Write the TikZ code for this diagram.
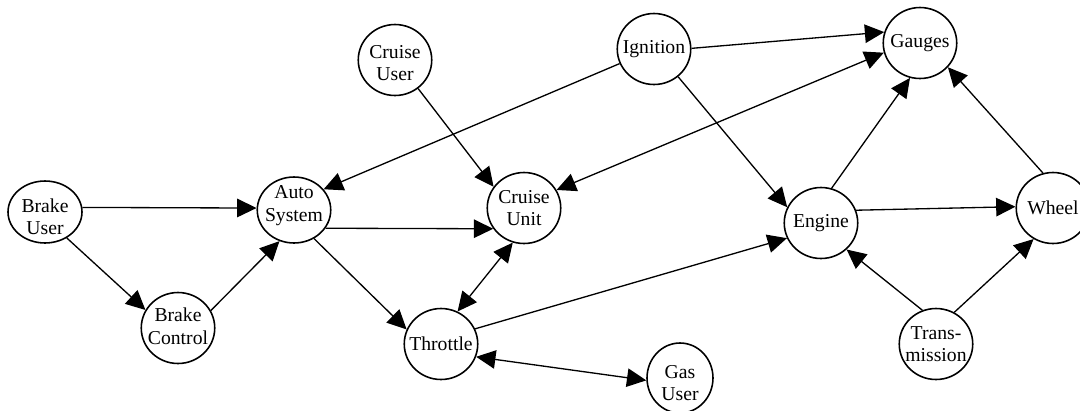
\documentclass[tikz,border=0pt]{standalone}
\usepackage{fontspec}
\setmainfont{Liberation Serif}
\usetikzlibrary{arrows.meta,shapes.geometric}
\begin{document}
\begin{tikzpicture}[x=0.02cm,y=-0.02cm,
  unit/.style={ellipse, draw, line width=0.9pt, inner sep=0pt,
    minimum width=1.47cm, minimum height=1.42cm},
  every label/.style={align=center, inner sep=0pt,
    font=\fontsize{11.2}{12.6}\selectfont},
  link/.style={line width=0.75pt, -{Triangle[length=11pt,width=10.5pt]}},
  both/.style={line width=0.75pt, {Triangle[length=11pt,width=10.5pt]}-{Triangle[length=11pt,width=10.5pt]}}]
\useasboundingbox (0,0) rectangle (1080,410);

% components
\node[unit, minimum width=1.48cm, minimum height=1.24cm,
      label={[yshift=-2.8pt]center:{Brake\\User}}] (bu) at (45,212) {};
\node[unit, label={[yshift=1pt]center:{Brake\\Control}}] (bc) at (178,328) {};
\node[unit, minimum height=1.32cm,
      label={[yshift=2.5pt]center:{Auto\\System}}] (as) at (294,210) {};
\node[unit, label={[yshift=-1.7pt]center:{Cruise\\User}}] (cu) at (395,60) {};
\node[unit, label={center:{Cruise\\Unit}}] (cn) at (524,208) {};
\node[unit, label={center:{Throttle}}] (th) at (441,344) {};
\node[unit, minimum width=1.32cm, minimum height=1.4cm,
      label={[yshift=-3pt]center:{Gas\\User}}] (gu) at (680,378) {};
\node[unit, label={center:{Ignition}}] (ig) at (654,49) {};
\node[unit, label={center:{Gauges}}] (ga) at (920,43) {};
\node[unit, label={center:{Engine}}] (en) at (821,223) {};
\node[unit, label={center:{Wheel}}] (wh) at (1053,208) {};
\node[unit, label={center:{Trans-\\mission}}] (tr) at (936,344) {};

% signal flow
\draw[link] (bu.7) -- (as.177);
\draw[link] (bu.-50) -- (bc.151);
\draw[link] (bc.28) -- (as.-115);
\draw[link] (as.-30) -- (cn.-146);
\draw[link] (as.-55) -- (th.157);
\draw[link] (cu.-51) -- (cn.145);
\draw[link] (ig.203) -- (as.35);
\draw[both] (cn.29) -- (ga.195);
\draw[both] (cn.-108) -- (th.63);
\draw[link] (th.24) -- (en.204);
\draw[both] (th.-20) -- (gu.184);
\draw[link] (ig.1) -- (ga.163);
\draw[link] (ig.-49) -- (en.155);
\draw[link] (en.73) -- (ga.-106);
\draw[link] (wh.106) -- (ga.-41);
\draw[link] (en.20) -- (wh.178);
\draw[link] (tr.112) -- (en.-46);
\draw[link] (tr.60) -- (wh.-122);
\end{tikzpicture}
\end{document}
